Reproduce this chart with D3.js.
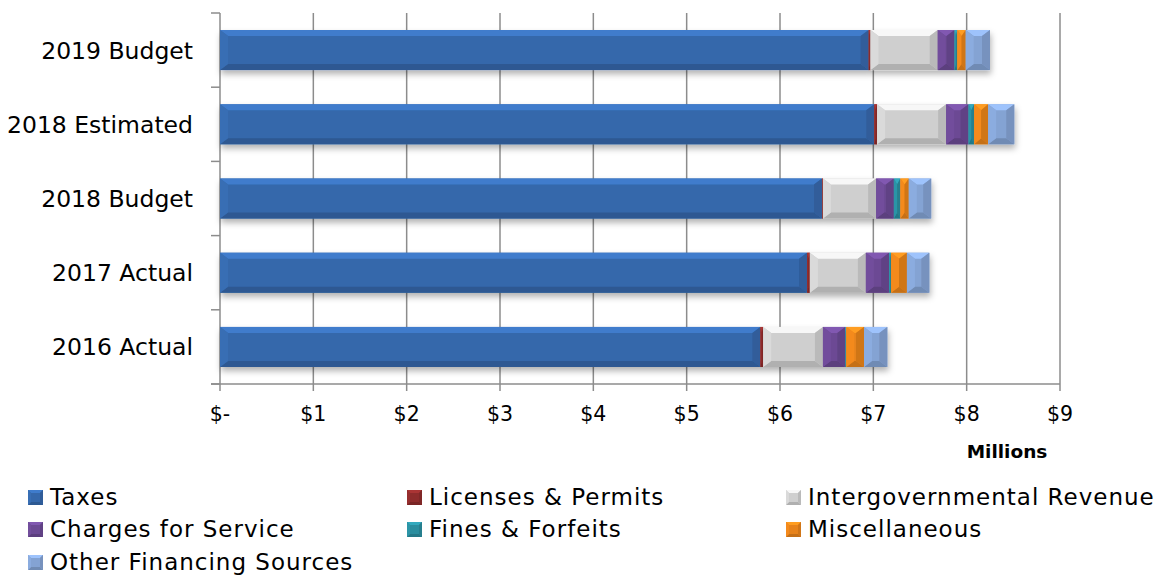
<!DOCTYPE html>
<html>
<head>
<meta charset="utf-8">
<script src="https://cdn.jsdelivr.net/npm/d3@7"></script>
<style>
  html, body { margin: 0; padding: 0; background: #fff; }
  svg { display: block; font-family: "DejaVu Sans", sans-serif; }
</style>
</head>
<body>
<svg id="chart" width="1157" height="577"></svg>
<script>
// Revenue by source, in millions of dollars
const categories = ["2019 Budget", "2018 Estimated", "2018 Budget", "2017 Actual", "2016 Actual"];
const seriesNames = ["Taxes", "Licenses & Permits", "Intergovernmental Revenue",
                     "Charges for Service", "Fines & Forfeits", "Miscellaneous",
                     "Other Financing Sources"];
const taxes        = [6.95, 7.01, 6.45, 6.29, 5.79];
const licenses     = [0.02, 0.03, 0.01, 0.03, 0.03];
const intergov     = [0.72, 0.74, 0.57, 0.60, 0.64];
const charges      = [0.18, 0.24, 0.19, 0.25, 0.24];
const fines        = [0.03, 0.06, 0.07, 0.02, 0.01];
const misc         = [0.09, 0.15, 0.09, 0.17, 0.19];
const otherSources = [0.26, 0.28, 0.24, 0.24, 0.25];
const tickValues = [0, 1, 2, 3, 4, 5, 6, 7, 8, 9];
const tickLabels = ["$-", "$1", "$2", "$3", "$4", "$5", "$6", "$7", "$8", "$9"];
const seriesColors = ["#3568ab", "#8e2c2c", "#cfcfcf", "#6c4a94", "#2a8d9e", "#e7831b", "#84a3d3"];

const seriesValues = [taxes, licenses, intergov, charges, fines, misc, otherSources];

const svg = d3.select("#chart");

const x = d3.scaleLinear().domain([0, 9]).range([220, 1060]);
const y = d3.scaleBand().domain(categories).range([13, 384])
  .paddingInner(0.461).paddingOuter(0.2305);

// Shadow under bars
const defs = svg.append("defs");
const shadow = defs.append("filter").attr("id", "barShadow")
  .attr("x", "-5%").attr("y", "-30%").attr("width", "110%").attr("height", "180%");
shadow.append("feDropShadow").attr("dx", 1).attr("dy", 4)
  .attr("stdDeviation", 3).attr("flood-color", "#000").attr("flood-opacity", 0.3);

// Vertical gridlines and ticks below the value axis
const grid = svg.append("g");
grid.selectAll("line.grid").data(tickValues).join("line")
  .attr("x1", d => x(d)).attr("x2", d => x(d))
  .attr("y1", 13).attr("y2", 391)
  .attr("stroke", "#8c8c8c").attr("stroke-width", 1.5);

// Value axis line
svg.append("line").attr("x1", 211).attr("x2", x(9)).attr("y1", 384).attr("y2", 384)
  .attr("stroke", "#8c8c8c").attr("stroke-width", 1.5);

// Category axis ticks at band boundaries
const step = y.step();
const bounds = categories.map(c => y(c) - (step - y.bandwidth()) / 2).concat([384]);
svg.append("g").selectAll("line").data(bounds).join("line")
  .attr("x1", 211).attr("x2", 220).attr("y1", d => d).attr("y2", d => d)
  .attr("stroke", "#8c8c8c").attr("stroke-width", 1.5);

// Tick labels
svg.append("g").selectAll("text").data(tickValues).join("text")
  .attr("x", d => x(d)).attr("y", 421)
  .attr("text-anchor", "middle").attr("font-size", 20.5).attr("fill", "#000")
  .text((d, i) => tickLabels[i]);

svg.append("text").attr("x", 1007).attr("y", 458).attr("text-anchor", "middle")
  .attr("font-size", 18.5).attr("font-weight", "bold").attr("fill", "#000").text("Millions");

// Category labels
svg.append("g").selectAll("text").data(categories).join("text")
  .attr("x", 193).attr("y", d => y(d) + y.bandwidth() / 2)
  .attr("dy", "0.36em").attr("text-anchor", "end")
  .attr("font-size", 23.5).attr("fill", "#000").text(d => d);

// Bevelled block: main face plus four sloped edge faces
function bevel(g, x0, y0, w, h, color, bSize, tSize) {
  const c = d3.rgb(color);
  const b = Math.min(bSize, w / 2), t = Math.min(tSize, h / 2);
  g.append("rect").attr("x", x0).attr("y", y0).attr("width", w).attr("height", h)
    .attr("fill", c.formatHex());
  const pts = a => a.map(p => p.join(",")).join(" ");
  // top face
  g.append("polygon").attr("points", pts([[x0, y0], [x0 + w, y0], [x0 + w - b, y0 + t], [x0 + b, y0 + t]]))
    .attr("fill", c.brighter(0.5).formatHex());
  // bottom face
  g.append("polygon").attr("points", pts([[x0, y0 + h], [x0 + w, y0 + h], [x0 + w - b, y0 + h - t], [x0 + b, y0 + h - t]]))
    .attr("fill", c.darker(0.45).formatHex());
  // left face
  g.append("polygon").attr("points", pts([[x0, y0], [x0 + b, y0 + t], [x0 + b, y0 + h - t], [x0, y0 + h]]))
    .attr("fill", c.brighter(0.15).formatHex());
  // right face
  g.append("polygon").attr("points", pts([[x0 + w, y0], [x0 + w - b, y0 + t], [x0 + w - b, y0 + h - t], [x0 + w, y0 + h]]))
    .attr("fill", c.darker(0.3).formatHex());
}

// Stacked bars
const bars = svg.append("g").attr("filter", "url(#barShadow)");
categories.forEach((cat, ci) => {
  let acc = 0;
  const row = bars.append("g");
  seriesValues.forEach((vals, si) => {
    const v = vals[ci];
    const x0 = x(acc), x1 = x(acc + v);
    acc += v;
    const seg = row.append("g");
    bevel(seg, x0, y(cat), x1 - x0, y.bandwidth(), seriesColors[si], 8, 6);
  });
});

// Legend
const legendCols = [28, 407, 786];
const legendRows = [505, 537, 570];
const legend = svg.append("g");
seriesNames.forEach((name, i) => {
  const lx = legendCols[i % 3], ly = legendRows[Math.floor(i / 3)];
  const item = legend.append("g");
  bevel(item, lx, ly - 15, 15, 15, seriesColors[i], 3, 3);
  item.append("text").attr("x", lx + 22).attr("y", ly)
    .attr("font-size", 23).attr("letter-spacing", 1).attr("fill", "#000").text(name);
});
</script>
</body>
</html>
